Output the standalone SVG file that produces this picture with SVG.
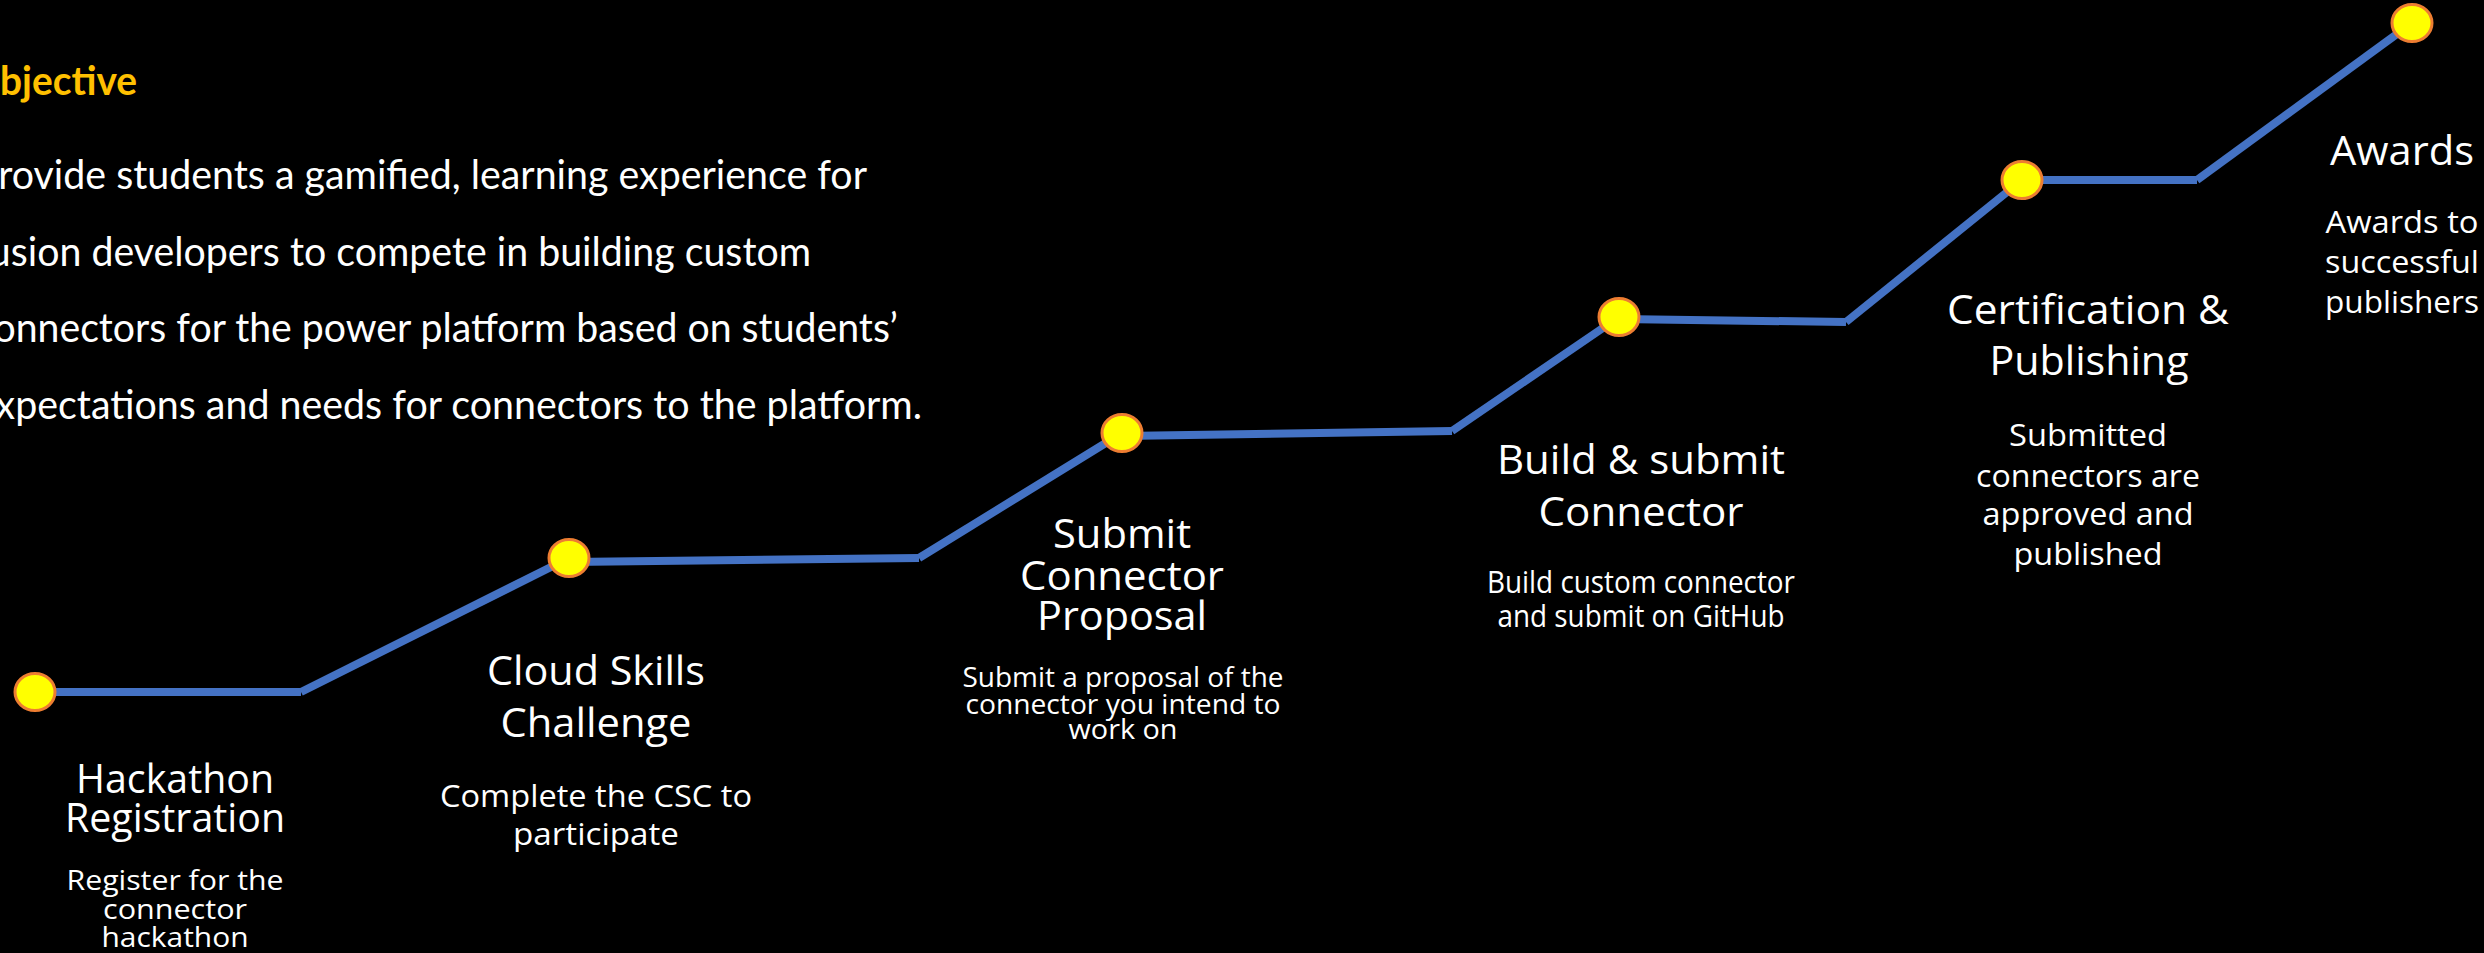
<svg xmlns="http://www.w3.org/2000/svg" width="2484" height="953" viewBox="0 0 2484 953">
  <style>
    .bg { fill: #000000; }
    .path line { stroke: #4472C4; stroke-width: 8; stroke-linecap: butt; }
    .dot { fill: #FFFF00; stroke: #ED7D31; stroke-width: 3; }
    .title { font-family: "Open Sans", "Noto Sans", sans-serif; font-size: 40px; fill: #FFFFFF; text-anchor: middle; }
    .sub { font-family: "Open Sans", "Noto Sans", sans-serif; font-size: 31px; fill: #FFFFFF; text-anchor: middle; }
    .sub-sm { font-family: "Open Sans", "Noto Sans", sans-serif; font-size: 28px; fill: #FFFFFF; text-anchor: middle; }
    .head { font-family: Lato, "Liberation Sans", sans-serif; font-size: 40px; font-weight: bold; fill: #FFC000; }
    .body { font-family: Lato, "Liberation Sans", sans-serif; font-size: 40px; fill: #FFFFFF; }
  </style>

  <rect class="bg" x="0" y="0" width="2484" height="953"/>

  <!-- Objective statement (runs off the left edge) -->
  <g id="objective">
    <text class="head" x="-31" y="95" textLength="168" lengthAdjust="spacingAndGlyphs">Objective</text>
    <text class="body" x="-25" y="189" textLength="892" lengthAdjust="spacingAndGlyphs">Provide students a gamified, learning experience for</text>
    <text class="body" x="-25" y="266" textLength="836" lengthAdjust="spacingAndGlyphs">fusion developers to compete in building custom</text>
    <text class="body" x="-25" y="342" textLength="923" lengthAdjust="spacingAndGlyphs">connectors for the power platform based on students’</text>
    <text class="body" x="-25" y="419" textLength="947" lengthAdjust="spacingAndGlyphs">expectations and needs for connectors to the platform.</text>
  </g>

  <!-- Stepped progress line -->
  <g id="connectors" class="path">
    <line x1="35" y1="692" x2="301" y2="692"/>
    <line x1="301" y1="692" x2="569" y2="558"/>
    <line x1="569" y1="562" x2="919" y2="558"/>
    <line x1="919" y1="558" x2="1122" y2="433"/>
    <line x1="1122" y1="436" x2="1452" y2="431"/>
    <line x1="1452" y1="431" x2="1619" y2="317"/>
    <line x1="1619" y1="319" x2="1846" y2="322"/>
    <line x1="1846" y1="322" x2="2022" y2="180"/>
    <line x1="2022" y1="180" x2="2197" y2="180"/>
    <line x1="2197" y1="180" x2="2412" y2="23"/>
  </g>

  <!-- Milestones -->
  <g id="step-registration">
    <ellipse class="dot" cx="35" cy="692" rx="20" ry="18.5"/>
    <text class="title" x="175" y="793" textLength="198" lengthAdjust="spacingAndGlyphs">Hackathon</text>
    <text class="title" x="175" y="832" textLength="220" lengthAdjust="spacingAndGlyphs">Registration</text>
    <text class="sub-sm" x="175" y="890" textLength="217" lengthAdjust="spacingAndGlyphs">Register for the</text>
    <text class="sub-sm" x="175" y="919" textLength="144" lengthAdjust="spacingAndGlyphs">connector</text>
    <text class="sub-sm" x="175" y="947" textLength="147" lengthAdjust="spacingAndGlyphs">hackathon</text>
  </g>

  <g id="step-cloud-skills">
    <ellipse class="dot" cx="569" cy="558" rx="20" ry="18.5"/>
    <text class="title" x="596" y="685" textLength="218" lengthAdjust="spacingAndGlyphs">Cloud Skills</text>
    <text class="title" x="596" y="737" textLength="191" lengthAdjust="spacingAndGlyphs">Challenge</text>
    <text class="sub" x="596" y="807" textLength="312" lengthAdjust="spacingAndGlyphs">Complete the CSC to</text>
    <text class="sub" x="596" y="845" textLength="166" lengthAdjust="spacingAndGlyphs">participate</text>
  </g>

  <g id="step-proposal">
    <ellipse class="dot" cx="1122" cy="433" rx="20" ry="18.5"/>
    <text class="title" x="1122" y="548" textLength="138" lengthAdjust="spacingAndGlyphs">Submit</text>
    <text class="title" x="1122" y="590" textLength="204" lengthAdjust="spacingAndGlyphs">Connector</text>
    <text class="title" x="1122" y="630" textLength="170" lengthAdjust="spacingAndGlyphs">Proposal</text>
    <text class="sub-sm" x="1123" y="687" textLength="321" lengthAdjust="spacingAndGlyphs">Submit a proposal of the</text>
    <text class="sub-sm" x="1123" y="714" textLength="315" lengthAdjust="spacingAndGlyphs">connector you intend to</text>
    <text class="sub-sm" x="1123" y="739" textLength="109" lengthAdjust="spacingAndGlyphs">work on</text>
  </g>

  <g id="step-build">
    <ellipse class="dot" cx="1619" cy="317" rx="20" ry="18.5"/>
    <text class="title" x="1641" y="474" textLength="288" lengthAdjust="spacingAndGlyphs">Build &amp; submit</text>
    <text class="title" x="1641" y="526" textLength="205" lengthAdjust="spacingAndGlyphs">Connector</text>
    <text class="sub" x="1641" y="593" textLength="308" lengthAdjust="spacingAndGlyphs">Build custom connector</text>
    <text class="sub" x="1641" y="627" textLength="287" lengthAdjust="spacingAndGlyphs">and submit on GitHub</text>
  </g>

  <g id="step-certification">
    <ellipse class="dot" cx="2022" cy="180" rx="20" ry="18.5"/>
    <text class="title" x="2088" y="324" textLength="282" lengthAdjust="spacingAndGlyphs">Certification &amp;</text>
    <text class="title" x="2089" y="375" textLength="199" lengthAdjust="spacingAndGlyphs">Publishing</text>
    <text class="sub" x="2088" y="446" textLength="158" lengthAdjust="spacingAndGlyphs">Submitted</text>
    <text class="sub" x="2088" y="487" textLength="224" lengthAdjust="spacingAndGlyphs">connectors are</text>
    <text class="sub" x="2088" y="525" textLength="211" lengthAdjust="spacingAndGlyphs">approved and</text>
    <text class="sub" x="2088" y="565" textLength="149" lengthAdjust="spacingAndGlyphs">published</text>
  </g>

  <g id="step-awards">
    <ellipse class="dot" cx="2412" cy="23" rx="20" ry="18.5"/>
    <text class="title" x="2402" y="165" textLength="144" lengthAdjust="spacingAndGlyphs">Awards</text>
    <text class="sub" x="2402" y="233" textLength="153" lengthAdjust="spacingAndGlyphs">Awards to</text>
    <text class="sub" x="2402" y="273" textLength="154" lengthAdjust="spacingAndGlyphs">successful</text>
    <text class="sub" x="2402" y="313" textLength="154" lengthAdjust="spacingAndGlyphs">publishers</text>
  </g>
</svg>
